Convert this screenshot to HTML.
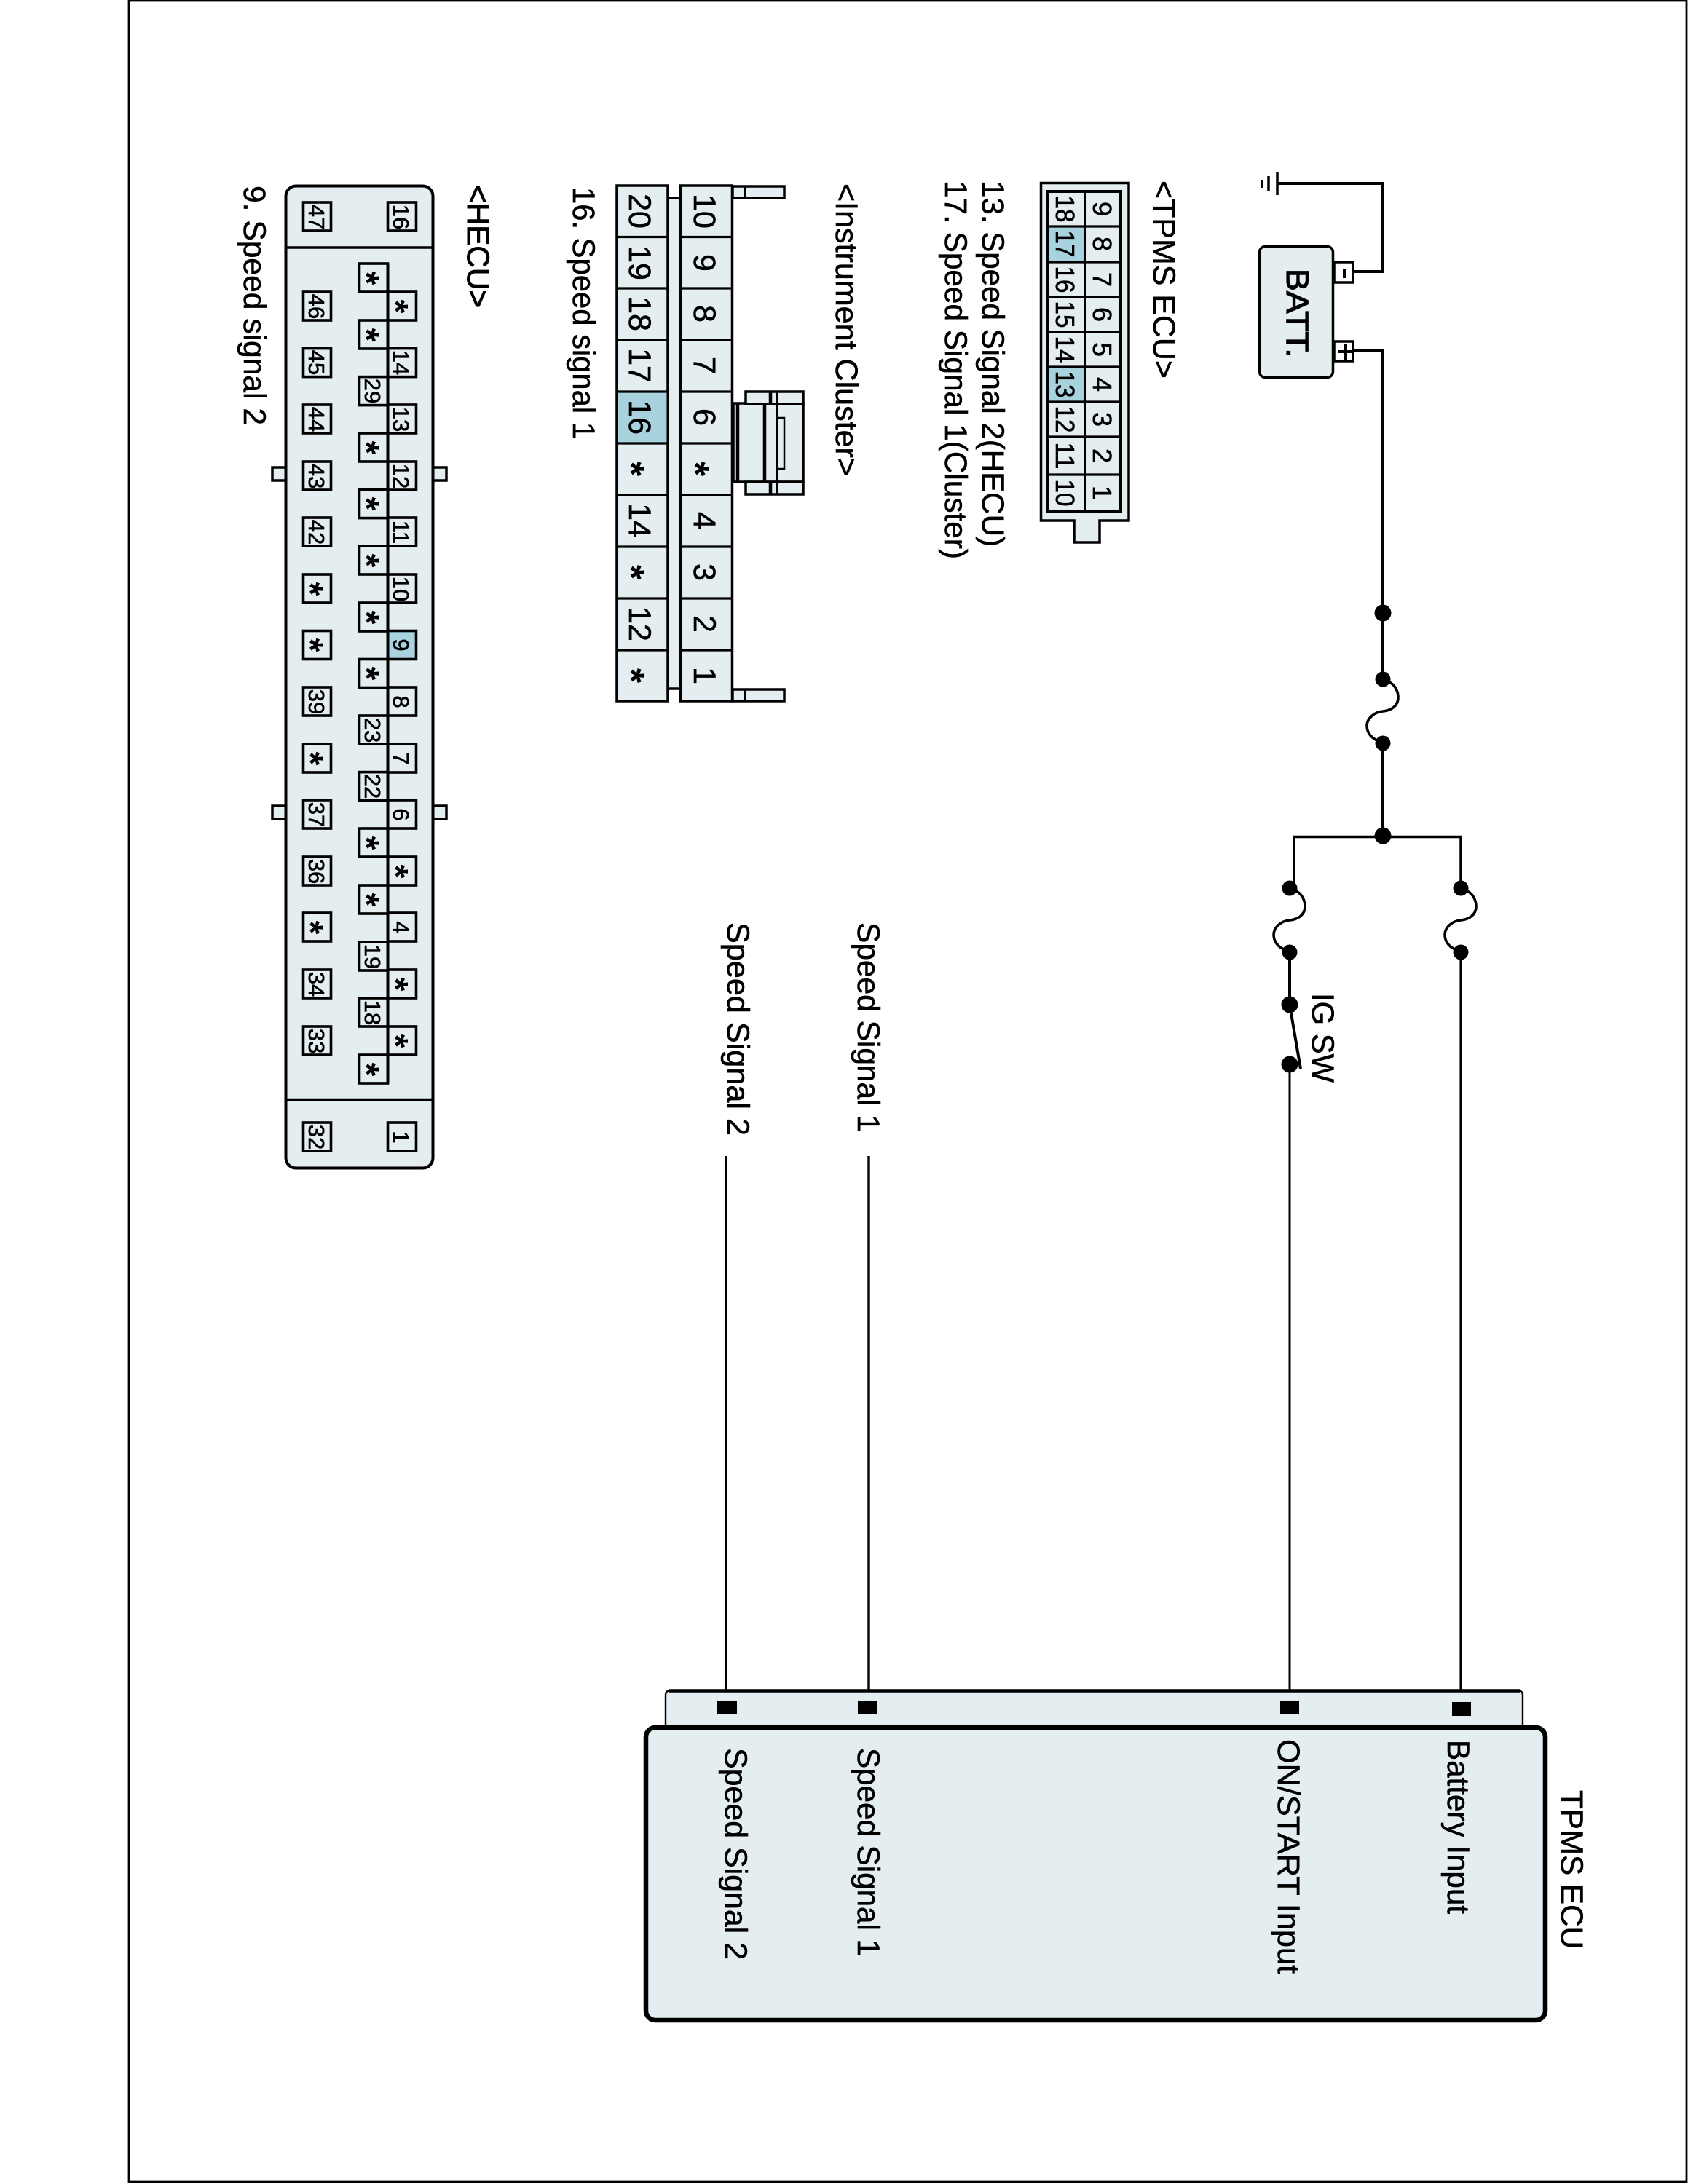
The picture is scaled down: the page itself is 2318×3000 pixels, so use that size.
<!DOCTYPE html>
<html>
<head>
<meta charset="utf-8">
<title>TPMS wiring diagram</title>
<style>
html,body{margin:0;padding:0;background:#fff;width:2318px;height:3000px;overflow:hidden}
svg{display:block}
text{font-family:"Liberation Sans",Arial,sans-serif;fill:#000;stroke:#000;stroke-width:.6px}
.l{font-size:43px}
.d{font-size:43px;text-anchor:middle}
.t{font-size:36px;text-anchor:middle}
.h{font-size:31px;text-anchor:middle}
.a{font-size:52px;text-anchor:middle;font-weight:bold;stroke-width:0}
.e{font-size:48px;text-anchor:middle;font-weight:bold;stroke-width:0}
.b{fill:#e4edef;stroke:#000;stroke-width:3.5}
.c{fill:#a7d2de;stroke:#000;stroke-width:3}
.w{fill:none;stroke:#000;stroke-width:4}
.f{fill:none;stroke:#000;stroke-width:3.6}
</style>
</head>
<body>
<svg width="2318" height="3000" viewBox="0 0 2318 3000" xmlns="http://www.w3.org/2000/svg">
<rect x="0" y="0" width="2318" height="3000" fill="#fff"/>
<!-- page frame -->
<path d="M177 1H2316V2997H177Z" fill="none" stroke="#000" stroke-width="2.8"/>

<!-- Battery + ground -->
<path class="w" d="M1754 252H1899V373H1858"/>
<path d="M1754 236V268" stroke="#000" stroke-width="3.5"/>
<path d="M1742 242V263" stroke="#000" stroke-width="3.5"/>
<path d="M1733 247V258" stroke="#000" stroke-width="3"/>
<rect class="b" x="1729.5" y="338.5" width="101" height="180" rx="8" stroke-width="4"/>
<rect x="1832" y="360" width="26" height="28" fill="#fff" stroke="#000" stroke-width="3.5"/>
<rect x="1832" y="469" width="26" height="27" fill="#fff" stroke="#000" stroke-width="3.5"/>
<rect x="1844" y="370" width="5" height="12" fill="#000"/>
<path d="M1837 483H1858M1848 473V495" stroke="#000" stroke-width="4"/>
<text class="l" textLength="122" lengthAdjust="spacingAndGlyphs" style="stroke-width:1.2px" transform="translate(1767,369) rotate(90)">BATT.</text>

<!-- Main power wiring -->
<path class="w" d="M1858 482H1899V933"/>
<path class="w" d="M1899 1021V1148"/>
<path d="M1777 1213V1149.5H2006V1220" fill="none" stroke="#000" stroke-width="3.5"/>
<path class="w" d="M1771 1309V1380"/>
<path d="M1771 1462V2340" fill="none" stroke="#000" stroke-width="3"/>
<path d="M2006 1309V2340" fill="none" stroke="#000" stroke-width="3.2"/>
<path d="M1773 1392L1786 1468" fill="none" stroke="#000" stroke-width="4"/>
<circle cx="1899" cy="842" r="11.5" fill="#000"/>
<circle cx="1899" cy="1148" r="11.5" fill="#000"/>
<circle cx="1899" cy="933" r="10.5" fill="#000"/>
<circle cx="1899" cy="1021" r="10.5" fill="#000"/>
<path class="f" d="M1908 937C1916 941 1920 950 1920 958C1920 970 1910 976 1899 977C1887 978 1877 987 1877 997C1877 1007 1884 1014 1891 1017"/>
<g transform="translate(-128,287)">
<path class="f" d="M1908 937C1916 941 1920 950 1920 958C1920 970 1910 976 1899 977C1887 978 1877 987 1877 997C1877 1007 1884 1014 1891 1017"/>
<circle cx="1899" cy="933" r="10.5" fill="#000"/>
<circle cx="1899" cy="1021" r="10.5" fill="#000"/>
</g>
<g transform="translate(107,287)">
<path class="f" d="M1908 937C1916 941 1920 950 1920 958C1920 970 1910 976 1899 977C1887 978 1877 987 1877 997C1877 1007 1884 1014 1891 1017"/>
<circle cx="1899" cy="933" r="10.5" fill="#000"/>
<circle cx="1899" cy="1021" r="10.5" fill="#000"/>
</g>
<circle cx="1771" cy="1380" r="11.5" fill="#000"/>
<circle cx="1771" cy="1462" r="11.5" fill="#000"/>
<text class="l" textLength="123" lengthAdjust="spacingAndGlyphs" transform="translate(1802,1364) rotate(90)">IG SW</text>

<!-- Speed signal wires -->
<path d="M996.5 1588V2340" fill="none" stroke="#000" stroke-width="3"/>
<path d="M1193 1588V2340" fill="none" stroke="#000" stroke-width="3.4"/>
<text class="l" textLength="293" lengthAdjust="spacingAndGlyphs" transform="translate(999,1267) rotate(90)">Speed Signal 2</text>
<text class="l" textLength="288" lengthAdjust="spacingAndGlyphs" transform="translate(1178,1267) rotate(90)">Speed Signal 1</text>

<!-- TPMS ECU box -->
<rect x="914" y="2322" width="1177" height="52" rx="6" fill="#e4edef" stroke="#000" stroke-width="2.4"/>
<path d="M918 2322.5H2087" stroke="#000" stroke-width="4.5"/>
<rect x="887" y="2373" width="1235" height="402" rx="13" fill="#e4edef" stroke="#000" stroke-width="6.5"/>
<rect x="985" y="2336" width="27" height="18" fill="#000"/>
<rect x="1178" y="2336" width="27" height="18" fill="#000"/>
<rect x="1758" y="2336" width="26" height="19" fill="#000"/>
<rect x="1994" y="2338" width="26" height="19" fill="#000"/>
<text class="l" textLength="291" lengthAdjust="spacingAndGlyphs" transform="translate(996,2401) rotate(90)">Speed Signal 2</text>
<text class="l" textLength="286" lengthAdjust="spacingAndGlyphs" transform="translate(1178,2401) rotate(90)">Speed Signal 1</text>
<text class="l" textLength="322" lengthAdjust="spacingAndGlyphs" transform="translate(1755,2389) rotate(90)">ON/START Input</text>
<text class="l" textLength="239" lengthAdjust="spacingAndGlyphs" transform="translate(1988,2390) rotate(90)">Battery Input</text>
<text class="l" textLength="218" lengthAdjust="spacingAndGlyphs" transform="translate(2144,2459) rotate(90)">TPMS ECU</text>

<!-- TPMS ECU connector -->
<path class="b" d="M1429.5 251.5H1550V715H1510V745H1475V715H1429.5Z" stroke-width="4"/>
<rect x="1439" y="263" width="100" height="440" fill="#e4edef" stroke="#000" stroke-width="4"/>
<rect x="1440" y="312" width="49" height="47" fill="#a7d2de"/>
<rect x="1440" y="504" width="49" height="47" fill="#a7d2de"/>
<path d="M1490 263V703M1439 311H1539M1439 360H1539M1439 408H1539M1439 456H1539M1439 504H1539M1439 552H1539M1439 600H1539M1439 652H1539" stroke="#000" stroke-width="3.2" fill="none"/>
<text class="t" transform="translate(1501,287) rotate(90)">9</text>
<text class="t" transform="translate(1501,335) rotate(90)">8</text>
<text class="t" transform="translate(1501,384) rotate(90)">7</text>
<text class="t" transform="translate(1501,432) rotate(90)">6</text>
<text class="t" transform="translate(1501,480) rotate(90)">5</text>
<text class="t" transform="translate(1501,528) rotate(90)">4</text>
<text class="t" transform="translate(1501,576) rotate(90)">3</text>
<text class="t" transform="translate(1501,626) rotate(90)">2</text>
<text class="t" transform="translate(1501,677) rotate(90)">1</text>
<text class="t" textLength="37" lengthAdjust="spacingAndGlyphs" transform="translate(1450,287) rotate(90)">18</text>
<text class="t" textLength="37" lengthAdjust="spacingAndGlyphs" transform="translate(1450,335) rotate(90)">17</text>
<text class="t" textLength="37" lengthAdjust="spacingAndGlyphs" transform="translate(1450,384) rotate(90)">16</text>
<text class="t" textLength="37" lengthAdjust="spacingAndGlyphs" transform="translate(1450,432) rotate(90)">15</text>
<text class="t" textLength="37" lengthAdjust="spacingAndGlyphs" transform="translate(1450,480) rotate(90)">14</text>
<text class="t" textLength="37" lengthAdjust="spacingAndGlyphs" transform="translate(1450,528) rotate(90)">13</text>
<text class="t" textLength="37" lengthAdjust="spacingAndGlyphs" transform="translate(1450,576) rotate(90)">12</text>
<text class="t" textLength="37" lengthAdjust="spacingAndGlyphs" transform="translate(1450,626) rotate(90)">11</text>
<text class="t" textLength="37" lengthAdjust="spacingAndGlyphs" transform="translate(1450,677) rotate(90)">10</text>
<text class="l" textLength="272" lengthAdjust="spacingAndGlyphs" transform="translate(1584,248) rotate(90)">&lt;TPMS ECU&gt;</text>
<text class="l" textLength="503" lengthAdjust="spacingAndGlyphs" transform="translate(1349,248) rotate(90)">13. Speed Signal 2(HECU)</text>
<text class="l" textLength="520" lengthAdjust="spacingAndGlyphs" transform="translate(1298,248) rotate(90)">17. Speed Signal 1(Cluster)</text>

<!-- Instrument cluster connector -->
<rect class="b" x="917" y="272" width="18" height="674"/>
<rect class="b" x="1006" y="256" width="71" height="16"/>
<rect class="b" x="1006" y="947" width="71" height="16"/>
<path d="M1023 256V272M1023 947V963" stroke="#000" stroke-width="4"/>
<rect class="b" x="1007" y="554" width="96" height="108" stroke-width="2.5"/>
<rect class="b" x="1024" y="538" width="79" height="17" stroke-width="3"/>
<rect class="b" x="1024" y="662" width="79" height="17" stroke-width="3"/>
<path d="M1013 555V662M1050 555V662M1058 538V555M1058 662V679" stroke="#000" stroke-width="4.5"/>
<path d="M1067 538V679" stroke="#000" stroke-width="3"/>
<rect x="1067" y="574" width="10" height="70" fill="#e4edef" stroke="#000" stroke-width="2.5"/>
<rect class="b" x="934.5" y="255" width="71" height="708"/>
<rect class="b" x="847" y="255" width="70" height="708"/>
<rect x="848.5" y="539" width="67" height="69" fill="#a7d2de"/>
<path d="M847 325.5H917M847 396H917M847 467H917M847 538H917M847 609H917M847 680H917M847 751H917M847 822H917M847 893H917M934 325.5H1006M934 396H1006M934 467H1006M934 538H1006M934 609H1006M934 680H1006M934 751H1006M934 822H1006M934 893H1006" stroke="#000" stroke-width="3.2" fill="none"/>
<text class="d" transform="translate(953,290) rotate(90)">10</text>
<text class="d" transform="translate(953,361) rotate(90)">9</text>
<text class="d" transform="translate(953,431) rotate(90)">8</text>
<text class="d" transform="translate(953,502) rotate(90)">7</text>
<text class="d" transform="translate(953,573) rotate(90)">6</text>
<text class="a" transform="translate(937,644) rotate(90)">*</text>
<text class="d" transform="translate(953,715) rotate(90)">4</text>
<text class="d" transform="translate(953,786) rotate(90)">3</text>
<text class="d" transform="translate(953,857) rotate(90)">2</text>
<text class="d" transform="translate(953,928) rotate(90)">1</text>
<text class="d" transform="translate(864,290) rotate(90)">20</text>
<text class="d" transform="translate(864,361) rotate(90)">19</text>
<text class="d" transform="translate(864,431) rotate(90)">18</text>
<text class="d" transform="translate(864,502) rotate(90)">17</text>
<text class="d" transform="translate(864,573) rotate(90)">16</text>
<text class="a" transform="translate(849,644) rotate(90)">*</text>
<text class="d" transform="translate(864,715) rotate(90)">14</text>
<text class="a" transform="translate(849,786) rotate(90)">*</text>
<text class="d" transform="translate(864,857) rotate(90)">12</text>
<text class="a" transform="translate(849,928) rotate(90)">*</text>
<text class="l" textLength="402" lengthAdjust="spacingAndGlyphs" transform="translate(1148,252) rotate(90)">&lt;Instrument Cluster&gt;</text>
<text class="l" textLength="346" lengthAdjust="spacingAndGlyphs" transform="translate(787,257) rotate(90)">16. Speed signal 1</text>

<!-- HECU connector -->
<rect class="b" x="374" y="642" width="20" height="18"/>
<rect class="b" x="592" y="642" width="21" height="18"/>
<rect class="b" x="374" y="1107" width="20" height="18"/>
<rect class="b" x="592" y="1107" width="21" height="18"/>
<rect x="392.5" y="255.5" width="202" height="1349" rx="14" fill="#e4edef" stroke="#000" stroke-width="4"/>
<path d="M392 340H595M392 1510.5H595" stroke="#000" stroke-width="3.5"/>
<g fill="#e4edef" stroke="#000" stroke-width="3.6">
<!-- left column -->
<rect x="416.5" y="278" width="38" height="39"/>
<rect x="416.5" y="401" width="38" height="39"/>
<rect x="416.5" y="478.6" width="38" height="39"/>
<rect x="416.5" y="556" width="38" height="39"/>
<rect x="416.5" y="634" width="38" height="39"/>
<rect x="416.5" y="711" width="38" height="39"/>
<rect x="416.5" y="789" width="38" height="39"/>
<rect x="416.5" y="866.5" width="38" height="39"/>
<rect x="416.5" y="944" width="38" height="39"/>
<rect x="416.5" y="1022" width="38" height="39"/>
<rect x="416.5" y="1099" width="38" height="39"/>
<rect x="416.5" y="1177" width="38" height="39"/>
<rect x="416.5" y="1254" width="38" height="39"/>
<rect x="416.5" y="1332" width="38" height="39"/>
<rect x="416.5" y="1410" width="38" height="39"/>
<rect x="416.5" y="1542" width="38" height="39"/>
<!-- middle column -->
<rect x="493.5" y="362" width="39" height="39"/>
<rect x="493.5" y="440" width="39" height="39"/>
<rect x="493.5" y="517.6" width="39" height="39"/>
<rect x="493.5" y="595" width="39" height="39"/>
<rect x="493.5" y="672.6" width="39" height="39"/>
<rect x="493.5" y="750" width="39" height="39"/>
<rect x="493.5" y="828" width="39" height="39"/>
<rect x="493.5" y="905.5" width="39" height="39"/>
<rect x="493.5" y="983" width="39" height="39"/>
<rect x="493.5" y="1060.6" width="39" height="39"/>
<rect x="493.5" y="1138" width="39" height="39"/>
<rect x="493.5" y="1216" width="39" height="39"/>
<rect x="493.5" y="1294" width="39" height="39"/>
<rect x="493.5" y="1371" width="39" height="39"/>
<rect x="493.5" y="1449" width="39" height="39"/>
<!-- right column -->
<rect x="532.5" y="278" width="39" height="39"/>
<rect x="532.5" y="401" width="39" height="39"/>
<rect x="532.5" y="478.6" width="39" height="39"/>
<rect x="532.5" y="556" width="39" height="39"/>
<rect x="532.5" y="634" width="39" height="39"/>
<rect x="532.5" y="711" width="39" height="39"/>
<rect x="532.5" y="789" width="39" height="39"/>
<rect x="532.5" y="866.5" width="39" height="39" fill="#a7d2de"/>
<rect x="532.5" y="944" width="39" height="39"/>
<rect x="532.5" y="1022" width="39" height="39"/>
<rect x="532.5" y="1099" width="39" height="39"/>
<rect x="532.5" y="1177" width="39" height="39"/>
<rect x="532.5" y="1254" width="39" height="39"/>
<rect x="532.5" y="1332" width="39" height="39"/>
<rect x="532.5" y="1410" width="39" height="39"/>
<rect x="532.5" y="1542" width="39" height="39"/>
</g>
<path d="M532.5 362V1488" stroke="#000" stroke-width="4"/>
<!-- left column labels -->
<text class="h" transform="translate(424,298) rotate(90)">47</text>
<text class="h" transform="translate(424,421) rotate(90)">46</text>
<text class="h" transform="translate(424,498) rotate(90)">45</text>
<text class="h" transform="translate(424,576) rotate(90)">44</text>
<text class="h" transform="translate(424,654) rotate(90)">43</text>
<text class="h" transform="translate(424,731) rotate(90)">42</text>
<text class="e" transform="translate(410,809) rotate(90)">*</text>
<text class="e" transform="translate(410,886) rotate(90)">*</text>
<text class="h" transform="translate(424,964) rotate(90)">39</text>
<text class="e" transform="translate(410,1042) rotate(90)">*</text>
<text class="h" transform="translate(424,1119) rotate(90)">37</text>
<text class="h" transform="translate(424,1197) rotate(90)">36</text>
<text class="e" transform="translate(410,1274) rotate(90)">*</text>
<text class="h" transform="translate(424,1352) rotate(90)">34</text>
<text class="h" transform="translate(424,1430) rotate(90)">33</text>
<text class="h" transform="translate(424,1562) rotate(90)">32</text>
<!-- middle column labels -->
<text class="e" transform="translate(487,382) rotate(90)">*</text>
<text class="e" transform="translate(487,460) rotate(90)">*</text>
<text class="h" transform="translate(501,537) rotate(90)">29</text>
<text class="e" transform="translate(487,615) rotate(90)">*</text>
<text class="e" transform="translate(487,692) rotate(90)">*</text>
<text class="e" transform="translate(487,770) rotate(90)">*</text>
<text class="e" transform="translate(487,848) rotate(90)">*</text>
<text class="e" transform="translate(487,925) rotate(90)">*</text>
<text class="h" transform="translate(501,1003) rotate(90)">23</text>
<text class="h" transform="translate(501,1080) rotate(90)">22</text>
<text class="e" transform="translate(487,1158) rotate(90)">*</text>
<text class="e" transform="translate(487,1236) rotate(90)">*</text>
<text class="h" transform="translate(501,1314) rotate(90)">19</text>
<text class="h" transform="translate(501,1391) rotate(90)">18</text>
<text class="e" transform="translate(487,1469) rotate(90)">*</text>
<!-- right column labels -->
<text class="h" transform="translate(540,298) rotate(90)">16</text>
<text class="e" transform="translate(527,421) rotate(90)">*</text>
<text class="h" transform="translate(540,498) rotate(90)">14</text>
<text class="h" transform="translate(540,576) rotate(90)">13</text>
<text class="h" transform="translate(540,654) rotate(90)">12</text>
<text class="h" transform="translate(540,731) rotate(90)">11</text>
<text class="h" transform="translate(540,809) rotate(90)">10</text>
<text class="h" transform="translate(540,886) rotate(90)">9</text>
<text class="h" transform="translate(540,964) rotate(90)">8</text>
<text class="h" transform="translate(540,1042) rotate(90)">7</text>
<text class="h" transform="translate(540,1119) rotate(90)">6</text>
<text class="e" transform="translate(527,1197) rotate(90)">*</text>
<text class="h" transform="translate(540,1274) rotate(90)">4</text>
<text class="e" transform="translate(527,1352) rotate(90)">*</text>
<text class="e" transform="translate(527,1430) rotate(90)">*</text>
<text class="h" transform="translate(540,1562) rotate(90)">1</text>
<text class="l" textLength="169" lengthAdjust="spacingAndGlyphs" style="stroke-width:1px" transform="translate(642,254) rotate(90)">&lt;HECU&gt;</text>
<text class="l" textLength="329" lengthAdjust="spacingAndGlyphs" transform="translate(335,255) rotate(90)">9. Speed signal 2</text>
</svg>
</body>
</html>
